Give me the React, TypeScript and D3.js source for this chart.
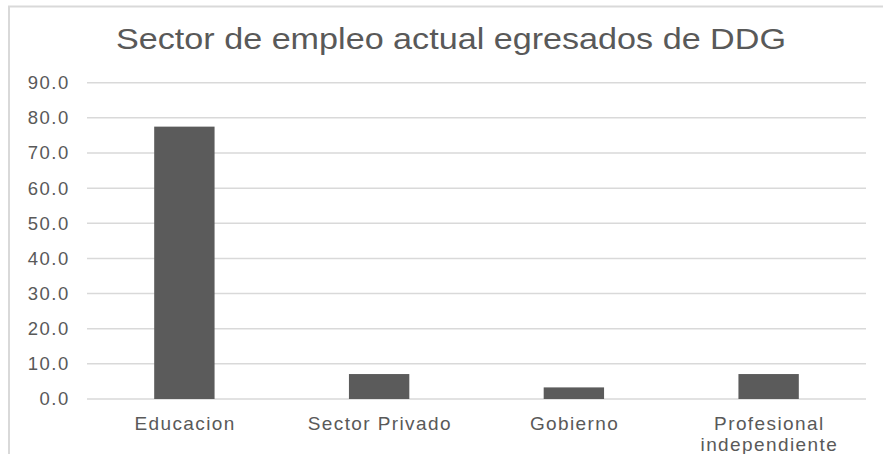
import React from "react";
import * as d3 from "d3";

const categories: string[][] = [["Educacion"], ["Sector Privado"], ["Gobierno"], ["Profesional", "independiente"]];
const values: number[] = [77.5, 7.1, 3.3, 7.1];
const yTicks: number[] = [0, 10, 20, 30, 40, 50, 60, 70, 80, 90];
const title = "Sector de empleo actual egresados de DDG";

const W = 883;
const H = 454;
const plotLeft = 87;
const plotRight = 866;
const plotTop = 82.7;
const plotBottom = 399;
const textColor = "#595959";
const gridColor = "#d9d9d9";
const barColor = "#5b5b5b";
const font = "'Liberation Sans', Arial, sans-serif";

export default function App() {
  const x = d3
    .scaleBand<number>()
    .domain(categories.map((_, i) => i))
    .range([plotLeft, plotRight])
    .padding(0);
  const y = d3.scaleLinear().domain([0, 90]).range([plotBottom, plotTop]);
  const barW = x.bandwidth() * 0.31;
  const fmt = d3.format(".1f");

  return (
    <svg
      width={W}
      height={H}
      style={{ position: "absolute", left: 0, top: 0, background: "#fff" }}
    >
      <rect x={9} y={6.5} width={W + 20} height={H + 20} fill="#fff" stroke={gridColor} strokeWidth={2} />
      <text
        x={451}
        y={49}
        textAnchor="middle"
        fontFamily={font}
        fontSize={29.5}
        fill={textColor}
        textLength={670}
        lengthAdjust="spacingAndGlyphs"
      >
        {title}
      </text>
      {yTicks.map((t) => (
        <g key={t}>
          <line x1={plotLeft} x2={plotRight} y1={y(t)} y2={y(t)} stroke={gridColor} strokeWidth={1.5} />
          <text
            x={69.8}
            y={y(t)}
            dy="0.35em"
            textAnchor="end"
            fontFamily={font}
            fontSize={18.5}
            fill={textColor}
            letterSpacing={1.5}
          >
            {fmt(t)}
          </text>
        </g>
      ))}
      {values.map((v, i) => {
        const cx = (x(i) as number) + x.bandwidth() / 2;
        return (
          <rect key={i} x={cx - barW / 2} y={y(v)} width={barW} height={y(0) - y(v)} fill={barColor} />
        );
      })}
      {categories.map((lines, i) => {
        const cx = (x(i) as number) + x.bandwidth() / 2 + 0.7;
        return (
          <text
            key={i}
            x={cx}
            y={429.5}
            textAnchor="middle"
            fontFamily={font}
            fontSize={19}
            fill={textColor}
            letterSpacing={1.4}
          >
            {lines.map((l, j) => (
              <tspan key={j} x={cx} dy={j === 0 ? 0 : 21.5}>
                {l}
              </tspan>
            ))}
          </text>
        );
      })}
    </svg>
  );
}
